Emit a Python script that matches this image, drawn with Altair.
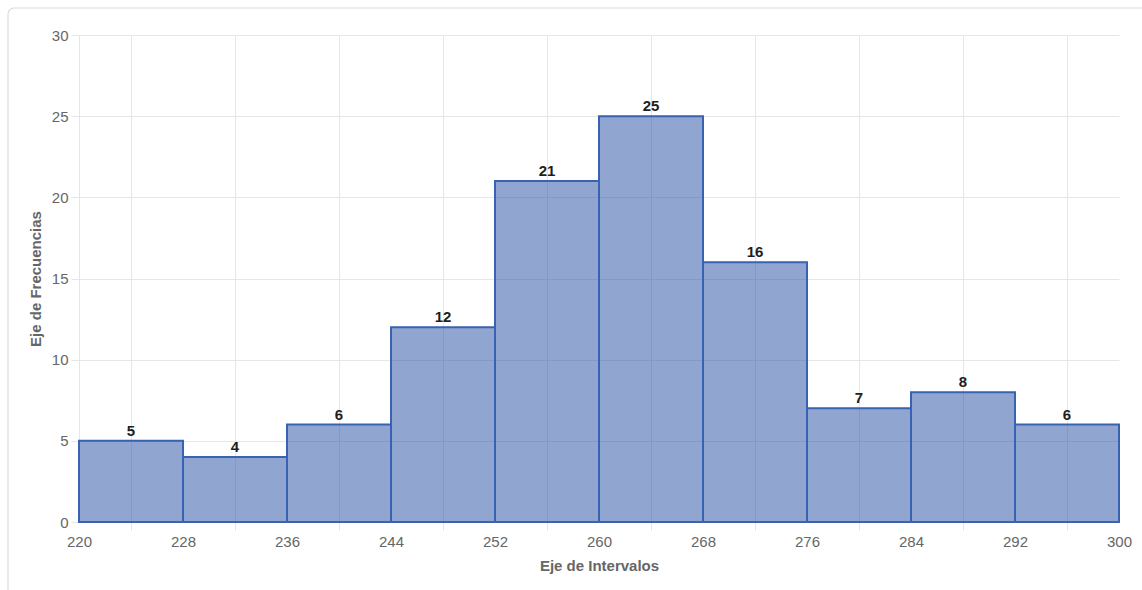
import altair as alt
import pandas as pd

# Frequency histogram: class intervals of width 8 from 220 to 300
bin_starts = [220, 228, 236, 244, 252, 260, 268, 276, 284, 292]
bin_ends = [228, 236, 244, 252, 260, 268, 276, 284, 292, 300]
counts = [5, 4, 6, 12, 21, 25, 16, 7, 8, 6]

x_ticks = list(range(220, 301, 4))
y_ticks = [0, 5, 10, 15, 20, 25, 30]

df = pd.DataFrame({"inicio": bin_starts, "fin": bin_ends, "frecuencia": counts})
df["centro"] = (df["inicio"] + df["fin"]) / 2

FONT = "Liberation Sans, Arial, Helvetica, sans-serif"
GRID = "#e6e6e6"
TEXT = "#666666"

W, H = 1040, 487
PAD = {"left": 79, "top": 35, "right": 23, "bottom": 68}

x_scale = alt.Scale(domain=[220, 300], nice=False, zero=False)
y_scale = alt.Scale(domain=[0, 30], nice=False)

# class centres (224, 232, ...) carry grid lines and ticks; edges carry labels
center_test = "datum.value % 8 == 0"

x_axis = alt.Axis(
    values=x_ticks,
    format="d",
    labelExpr="datum.value % 8 == 0 ? '' : datum.label",
    labelFlush=False,
    labelOverlap=False,
    labelColor=TEXT,
    labelFontSize=15,
    labelFont=FONT,
    labelPadding=4,
    grid=True,
    gridColor=GRID,
    gridOpacity={"condition": {"test": center_test, "value": 1}, "value": 0},
    ticks=True,
    tickSize=8,
    tickColor=GRID,
    tickOpacity={"condition": {"test": center_test, "value": 1}, "value": 0},
    domainColor=GRID,
    title="Eje de Intervalos",
    titleFont=FONT,
    titleFontSize=15,
    titleFontWeight="bold",
    titleColor=TEXT,
    titlePadding=9,
)

y_axis = alt.Axis(
    values=y_ticks,
    labelColor=TEXT,
    labelFontSize=15,
    labelFont=FONT,
    labelPadding=3,
    grid=True,
    gridColor=GRID,
    tickSize=8,
    tickColor=GRID,
    domainColor=GRID,
    title="Eje de Frecuencias",
    titleFont=FONT,
    titleFontSize=15,
    titleFontWeight="bold",
    titleColor=TEXT,
    titlePadding=8,
)

# Card frame around the chart (outline only)
frame = alt.Chart(pd.DataFrame({"k": [0]})).mark_rect(
    fillOpacity=0, stroke="#dcdcdc", strokeWidth=1.2, cornerRadius=6
).encode(
    x=alt.value(-71), x2=alt.value(W + 60),
    y=alt.value(-27), y2=alt.value(H + 120),
)

base = alt.Chart(df)

bars = base.mark_rect(
    fill="#2d55a5", fillOpacity=0.53, stroke="#3a62b3", strokeWidth=2
).encode(
    x=alt.X("inicio:Q", scale=x_scale, axis=x_axis),
    x2="fin:Q",
    y=alt.Y("frecuencia:Q", scale=y_scale, axis=y_axis),
    y2=alt.datum(0),
)

labels = base.mark_text(
    font=FONT, fontSize=15, fontWeight="bold", color="#1e1e1e",
    baseline="alphabetic", dy=-5,
).encode(
    x=alt.X("centro:Q", scale=x_scale),
    y=alt.Y("frecuencia:Q", scale=y_scale),
    text="frecuencia:Q",
)

chart = alt.layer(frame, bars, labels).properties(
    width=W, height=H,
    autosize=alt.AutoSizeParams(type="none"),
    padding=PAD,
    background="white",
).configure_view(stroke=None)

chart.save("out.html", embed_options={"renderer": "svg", "actions": False})
